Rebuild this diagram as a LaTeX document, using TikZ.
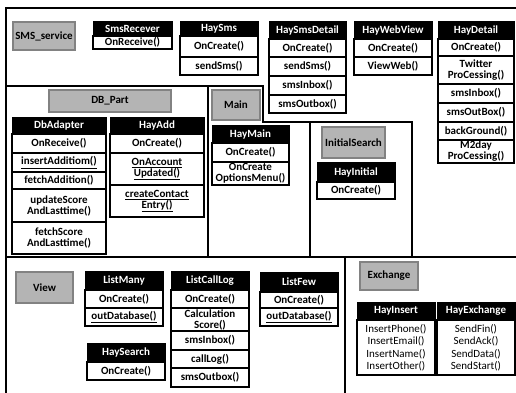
\documentclass[tikz,border=0pt]{standalone}
\usepackage{fontspec}
\setmainfont{Carlito}
\definecolor{grayfill}{RGB}{180,180,180}
\definecolor{grayedge}{RGB}{130,130,130}
\newcommand{\bx}[6]{\node[#1, minimum width=#4pt, minimum height=#5pt] (#2) at (#3) {#6};}
\tikzset{
  basebox/.style={inner sep=0pt, outer sep=0pt, anchor=north west, align=center,
    font=\bfseries\fontsize{11}{11}\selectfont},
  hdr/.style={basebox, draw=black, fill=black, text=white, line width=1pt},
  cel/.style={basebox, draw=black, fill=white, line width=1.2pt},
  plain/.style={basebox, draw=black, fill=white, line width=1.2pt, font=\fontsize{11}{12.5}\selectfont},
  grp/.style={basebox, draw=grayedge, fill=grayfill, line width=2pt},
  region/.style={line width=1.5pt, line cap=rect}
}
\begin{document}
\begin{tikzpicture}[x=1pt,y=-1pt]
\useasboundingbox (0,0) rectangle (516,392);
% region borders
\draw[region] (6,392) -- (6,8) -- (516,8);
\draw[region] (6,86) -- (263,86) -- (263,122) -- (412,122);
\draw[region] (208,86) -- (208,257);
\draw[region] (310,122) -- (310,257);
\draw[region] (412,122) -- (412,257);
\draw[region] (6,257) -- (516,257);
\draw[region] (345,257) -- (345,392);
% ---- SMS_service
\bx{grp}{smsservice}{13,22}{62}{28}{SMS\_service}
\bx{hdr}{smsrH}{93,21}{79}{15}{SmsRecever}
\bx{cel}{smsrA}{93,36}{79}{13}{OnReceive()}
\bx{hdr}{haysmsH}{180,21}{78}{15}{HaySms}
\bx{cel}{haysmsA}{180,36}{78}{21}{OnCreate()}
\bx{cel}{haysmsB}{180,57}{78}{18}{sendSms()}
\bx{hdr}{hsdH}{269,21}{77}{18}{HaySmsDetail}
\bx{cel}{hsdA}{269,39}{77}{18}{OnCreate()}
\bx{cel}{hsdB}{269,57}{77}{19}{sendSms()}
\bx{cel}{hsdC}{269,76}{77}{19}{smsInbox()}
\bx{cel}{hsdD}{269,95}{77}{18}{smsOutbox()}
\bx{hdr}{hwvH}{354,21}{78}{18}{HayWebView}
\bx{cel}{hwvA}{354,39}{78}{18}{OnCreate()}
\bx{cel}{hwvB}{354,57}{78}{18}{ViewWeb()}
\bx{hdr}{hdH}{438,21}{76}{18}{HayDetail}
\bx{cel}{hdA}{438,39}{76}{17}{OnCreate()}
\bx{cel}{hdB}{438,56}{76}{28}{Twitter\\ProCessing()}
\bx{cel}{hdC}{438,84}{76}{19}{smsInbox()}
\bx{cel}{hdD}{438,103}{76}{19}{smsOutBox()}
\bx{cel}{hdE}{438,122}{76}{18}{backGround()}
\bx{cel}{hdF}{438,140}{76}{23}{M2day\\ProCessing()}
% ---- DB_Part
\bx{grp}{dbpart}{49,90}{122}{22}{DB\_Part}
\bx{hdr}{dbaH}{12,117}{94}{17}{DbAdapter}
\bx{cel}{dbaA}{12,134}{94}{19}{OnReceive()}
\bx{cel}{dbaB}{12,153}{94}{19}{\underline{insertAdditiom()}}
\bx{cel}{dbaC}{12,172}{94}{17}{fetchAddition()}
\bx{cel}{dbaD}{12,189}{94}{33}{updateScore\\AndLasttime()}
\bx{cel}{dbaE}{12,222}{94}{32}{fetchScore\\AndLasttime()}
\bx{hdr}{haH}{110,117}{94}{17}{HayAdd}
\bx{cel}{haA}{110,134}{94}{19}{OnCreate()}
\bx{cel}{haB}{110,153}{94}{32}{\underline{OnAccount}\\\underline{Updated()}}
\bx{cel}{haC}{110,185}{94}{32}{\underline{createContact}\\\underline{Entry()}}
% ---- Main
\bx{grp}{mainbox}{212,90}{48}{30}{Main}
\bx{hdr}{hmH}{212,125}{77}{18}{HayMain}
\bx{cel}{hmA}{212,143}{77}{19}{OnCreate()}
\bx{cel}{hmB}{212,162}{77}{23}{OnCreate\\OptionsMenu()}
% ---- InitialSearch
\bx{grp}{initsearch}{322,127}{63}{31}{InitialSearch}
\bx{hdr}{hiH}{317,162}{78}{20}{HayInitial}
\bx{cel}{hiA}{317,182}{78}{17}{OnCreate()}
% ---- View
\bx{grp}{viewbox}{16,272}{57}{31}{View}
\bx{hdr}{lmH}{85,271}{78}{19}{ListMany}
\bx{cel}{lmA}{85,290}{78}{18}{OnCreate()}
\bx{cel}{lmB}{85,308}{78}{18}{\underline{outDatabase()}}
\bx{hdr}{hsH}{87,343}{78}{19}{HaySearch}
\bx{cel}{hsA}{87,362}{78}{18}{OnCreate()}
\bx{hdr}{lcH}{171,271}{78}{19}{ListCallLog}
\bx{cel}{lcA}{171,290}{78}{18}{OnCreate()}
\bx{cel}{lcB}{171,308}{78}{23}{Calculation\\Score()}
\bx{cel}{lcC}{171,331}{78}{19}{smsInbox()}
\bx{cel}{lcD}{171,350}{78}{18}{callLog()}
\bx{cel}{lcE}{171,368}{78}{19}{smsOutbox()}
\bx{hdr}{lfH}{260,272}{78}{20}{ListFew}
\bx{cel}{lfA}{260,292}{78}{16}{OnCreate()}
\bx{cel}{lfB}{260,308}{78}{18}{\underline{outDatabase()}}
% ---- Exchange
\bx{grp}{exchange}{360,262}{58}{28}{Exchange}
\bx{hdr}{hinsH}{357,302}{78}{18}{HayInsert}
\bx{plain}{hinsA}{357,320}{78}{55}{InsertPhone()\\InsertEmail()\\InsertName()\\InsertOther()}
\bx{hdr}{hexH}{437,302}{78}{18}{HayExchange}
\bx{plain}{hexA}{437,320}{78}{55}{SendFin()\\SendAck()\\SendData()\\SendStart()}
\end{tikzpicture}
\end{document}
